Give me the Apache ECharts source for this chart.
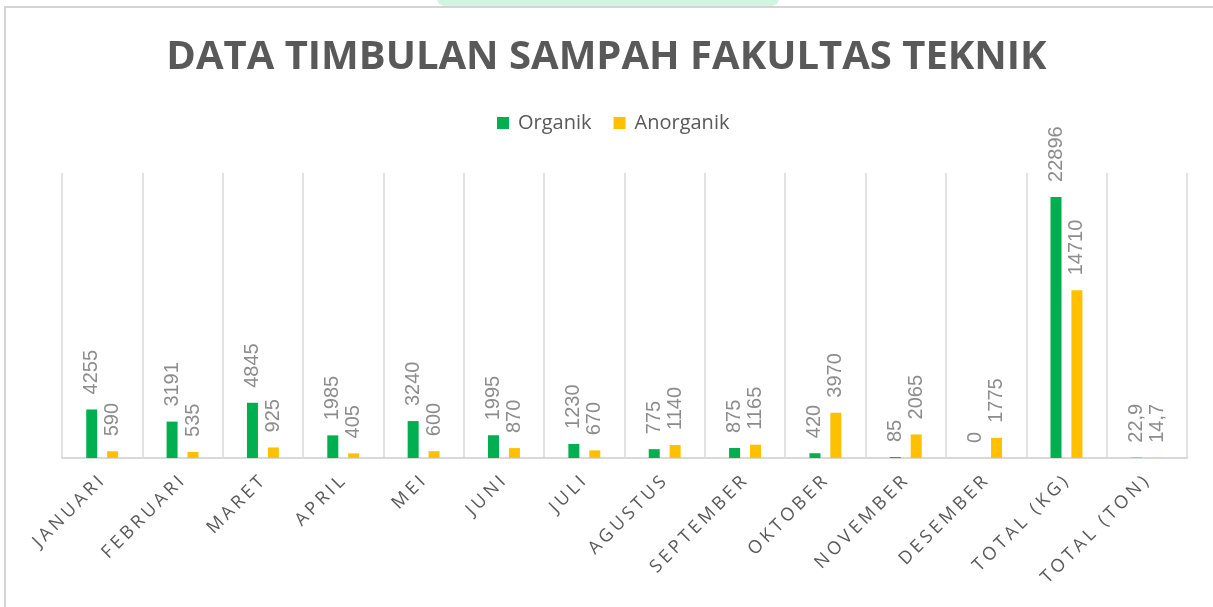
<!DOCTYPE html>
<html>
<head>
<meta charset="utf-8">
<script src="https://cdn.jsdelivr.net/npm/echarts@6/dist/echarts.min.js"></script>
<style>
  html, body { margin: 0; padding: 0; background: #fff; }
  #chart { width: 1213px; height: 607px; }
</style>
</head>
<body>
<div id="chart"></div>
<script>
// data
const categories = ['JANUARI', 'FEBRUARI', 'MARET', 'APRIL', 'MEI', 'JUNI', 'JULI', 'AGUSTUS',
  'SEPTEMBER', 'OKTOBER', 'NOVEMBER', 'DESEMBER', 'TOTAL (KG)', 'TOTAL (TON)'];
const organik = [4255, 3191, 4845, 1985, 3240, 1995, 1230, 775, 875, 420, 85, 0, 22896, 22.9];
const anorganik = [590, 535, 925, 405, 600, 870, 670, 1140, 1165, 3970, 2065, 1775, 14710, 14.7];

const chart = echarts.init(document.getElementById('chart'));

// label angka pakai koma desimal
const fmtValue = (p) => String(p.value).replace('.', ',');

// huruf diberi jarak (letter spacing) lewat rich text
const spaced = (v, key) => v.split('').map((ch) => '{' + key + '|' + ch + '}').join('');

const barLabel = {
  show: true,
  position: 'top',
  rotate: 90,
  align: 'left',
  verticalAlign: 'middle',
  distance: 15,
  color: '#8c8c8c',
  fontFamily: 'Liberation Sans',
  fontSize: 20,
  formatter: fmtValue,
};

chart.setOption({
  backgroundColor: '#fff',
  animation: false,
  graphic: [
    {
      type: 'rect',
      z: -10,
      shape: { x: 437, y: -10, width: 342, height: 16, r: 8 },
      style: { fill: '#d2f5e2' },
    },
    {
      type: 'rect',
      z: -5,
      shape: { x: 5, y: 7, width: 1260, height: 660 },
      style: { fill: 'none', stroke: '#d4d4d4', lineWidth: 2 },
    },
  ],
  title: {
    text: 'DATA TIMBULAN SAMPAH FAKULTAS TEKNIK',
    left: 'center',
    top: 33,
    textStyle: {
      fontFamily: 'Open Sans',
      fontWeight: 'bold',
      fontSize: 40,
      color: '#595959',
    },
  },
  legend: {
    top: 108,
    left: 492,
    icon: 'rect',
    itemWidth: 12,
    itemHeight: 12,
    itemGap: 22,
    textStyle: { fontFamily: 'Open Sans', fontSize: 20, color: '#595959', padding: [0, 0, 0, 4] },
    data: ['Organik', 'Anorganik'],
  },
  grid: { left: 62, right: 26, top: 173, bottom: 149 },
  xAxis: {
    type: 'category',
    data: categories,
    axisLine: { lineStyle: { color: '#d9d9d9', width: 2 } },
    axisTick: { show: false },
    splitLine: { show: true, lineStyle: { color: '#d9d9d9', width: 1.5 } },
    axisLabel: {
      interval: 0,
      rotate: 45,
      margin: 20,
      formatter: (v) => spaced(v, 'c'),
      rich: {
        c: { fontFamily: 'Open Sans', fontSize: 18, color: '#595959', padding: [0, 1.8] },
      },
    },
  },
  yAxis: {
    type: 'value',
    min: 0,
    max: 25000,
    show: false,
    splitLine: { show: false },
  },
  series: [
    {
      name: 'Organik',
      type: 'bar',
      data: organik,
      barWidth: 11,
      barGap: '90%',
      itemStyle: { color: '#00B050' },
      label: barLabel,
    },
    {
      name: 'Anorganik',
      type: 'bar',
      data: anorganik,
      barWidth: 11,
      itemStyle: { color: '#FFC000' },
      label: barLabel,
    },
  ],
});
</script>
</body>
</html>
